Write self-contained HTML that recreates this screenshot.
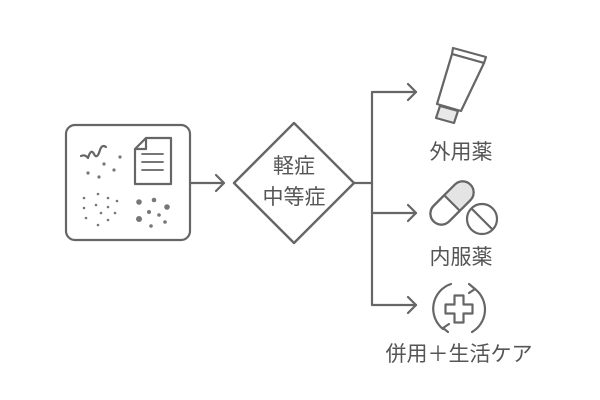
<!DOCTYPE html>
<html><head><meta charset="utf-8"><style>
html,body{margin:0;padding:0;background:#fff;}
svg{display:block}
text{font-family:"Liberation Sans","Noto Sans CJK JP",sans-serif;fill:#555;}
</style></head><body>
<svg width="600" height="400" viewBox="0 0 600 400">
<g fill="none" stroke="#666" stroke-width="2.2" stroke-linejoin="round" stroke-linecap="round">
<rect x="66" y="125" width="124" height="115" rx="9"/>
<path d="M81 156 q4 -2 7 2 q3 -10 6 -4 q3 6 6 -4 q2 -6 6 -3"/>
<path d="M146 138 h25 v46 h-36 v-35 z M135 149 h11 v-11"/>
<path d="M142 154 h21 M142 162 h21 M142 170 h21" stroke-width="1.8"/>
<path d="M190 183 h34 M216 175 l8 8 l-8 8"/>
<path d="M294 123 l60 60 l-60 60 l-60 -60 z" stroke-width="2.4"/>
<path d="M354 183 h18 M372 92 v213 M372 92 h44 M372 213 h44 M372 305 h44"/>
<path d="M408 84 l8 8 l-8 8 M408 205 l8 8 l-8 8 M408 297 l8 8 l-8 8"/>
<path d="M453 48 L486 57 L484 63 L452 54 Z"/>
<path d="M452 54 L484 63 L461 111 L437 104 Z" fill="#fff"/>
<path d="M440 106 L458 111 L454 123 L436 118 Z" fill="#e8e8e8"/>
<g transform="rotate(-45 452 203)">
<rect x="426" y="192" width="52" height="22" rx="11"/>
<path d="M452 193 h15 a10 10 0 0 1 0 20 h-15 z" fill="#e4e4e4" stroke="none"/>
<path d="M452 192 v22"/>
<rect x="426" y="192" width="52" height="22" rx="11"/>
</g>
<circle cx="482" cy="219" r="15" fill="#fff"/>
<path d="M472 209 l20 20"/>
<path d="M454.5 295.5 h9 v9 h9 v9 h-9 v9 h-9 v-9 h-9 v-9 h9 z"/>
<path d="M443 329 a26 26 0 0 1 8 -45 M475 289 a26 26 0 0 1 -3 43"/>
<path d="M469 284 l6 5 l-6 4 M448 332 l-5 -4 l6 -4"/>
</g>
<g fill="#777">
<circle cx="120" cy="157" r="1.6"/><circle cx="104" cy="164" r="1.6"/><circle cx="114" cy="170" r="1.6"/><circle cx="88" cy="173" r="1.6"/><circle cx="99" cy="177" r="1.6"/>
<circle cx="98" cy="194" r="1.3"/><circle cx="108" cy="198" r="1.3"/><circle cx="84" cy="198" r="1.3"/><circle cx="117" cy="201" r="1.3"/><circle cx="96" cy="205" r="1.3"/><circle cx="108" cy="207" r="1.3"/><circle cx="84" cy="208" r="1.3"/><circle cx="101" cy="213" r="1.3"/><circle cx="115" cy="213" r="1.3"/><circle cx="86" cy="218" r="1.3"/><circle cx="108" cy="220" r="1.3"/><circle cx="98" cy="225" r="1.3"/>
<circle cx="139" cy="202" r="2.8"/><circle cx="154" cy="200" r="2.3"/><circle cx="167" cy="207" r="2.8"/><circle cx="149" cy="212" r="2"/><circle cx="159" cy="215" r="1.8"/><circle cx="139" cy="219" r="3"/><circle cx="165" cy="222" r="1.8"/><circle cx="151" cy="226" r="1.8"/>
</g>
<text x="294" y="173" font-size="21" text-anchor="middle">軽症</text>
<text x="294" y="204" font-size="21" text-anchor="middle">中等症</text>
<text x="461" y="159" font-size="21" text-anchor="middle">外用薬</text>
<text x="461" y="264" font-size="21" text-anchor="middle">内服薬</text>
<text x="459" y="361" font-size="21" text-anchor="middle">併用＋生活ケア</text>
</svg>
</body></html>
